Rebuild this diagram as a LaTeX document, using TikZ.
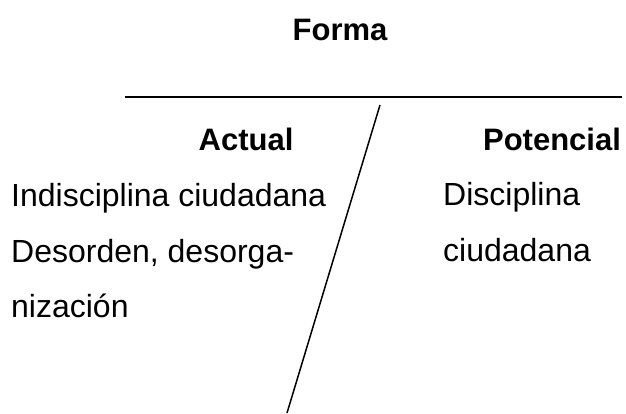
\documentclass[tikz,border=0pt]{standalone}
\usepackage{fontspec}
\setmainfont{Liberation Sans}
\usetikzlibrary{positioning}

\begin{document}
\begin{tikzpicture}[x=1pt, y=-1pt, inner sep=0pt,
    head/.style={anchor=base, font=\bfseries\fontsize{31}{37}\selectfont},
    entry/.style={anchor=base west, font=\fontsize{32}{38}\selectfont},
    rule/.style={line width=1.5pt}]
    \useasboundingbox (0,0) rectangle (626,414);
    % Title and rules
    \node[head] (forma) at (340,41) {Forma};
    \coordinate (hl) at (125,97);
    \coordinate (hr) at (622,97);
    \draw[rule] (hl) -- (hr);
    \coordinate (st) at (380,105);
    \coordinate (sb) at (287,413);
    \draw[rule] (st) -- (sb);
    % Column heads
    \node[head] (actual) at (246,151) {Actual};
    \node[head] (potencial) at (552,151) {Potencial};
    % Left column
    \node[entry] (izq1) at (11,207) {Indisciplina ciudadana};
    \node[entry] (izq2) at (11,262) {Desorden, desorga-};
    \node[entry] (izq3) at (11,317) {nización};
    % Right column
    \node[entry] (der1) at (443,205) {Disciplina};
    \node[entry] (der2) at (443,261) {ciudadana};
\end{tikzpicture}
\end{document}
